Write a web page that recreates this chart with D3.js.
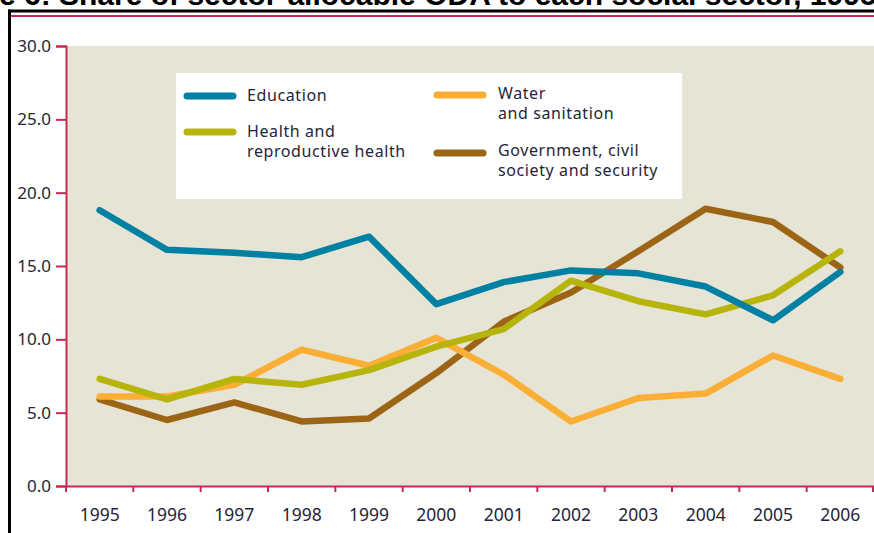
<!DOCTYPE html>
<html>
<head>
<meta charset="utf-8">
<script src="https://cdn.jsdelivr.net/npm/d3@7"></script>
<style>
  body { margin: 0; background: #fff; }
  svg { display: block; }
</style>
</head>
<body>
<script>
// data
let years = ['1995', '1996', '1997', '1998', '1999', '2000', '2001', '2002', '2003', '2004', '2005', '2006']
let education = [18.8, 16.1, 15.9, 15.6, 17.0, 12.4, 13.9, 14.7, 14.5, 13.6, 11.3, 14.6]
let health = [7.3, 5.9, 7.3, 6.9, 7.9, 9.5, 10.7, 14.0, 12.6, 11.7, 13.0, 16.0]
let water = [6.1, 6.1, 6.9, 9.3, 8.2, 10.1, 7.6, 4.4, 6.0, 6.3, 8.9, 7.3]
let government = [5.9, 4.5, 5.7, 4.4, 4.6, 7.7, 11.2, 13.2, 16.0, 18.9, 18.0, 14.9]
let yTicks = [0, 5, 10, 15, 20, 25, 30]

let series = [
  { name: ['Government, civil', 'society and security'], values: government, color: '#9c6415' },
  { name: ['Water', 'and sanitation'], values: water, color: '#fbae35' },
  { name: ['Health and', 'reproductive health'], values: health, color: '#b7b50c' },
  { name: ['Education'], values: education, color: '#0080a2' }
]

const axisColor = '#c52a57'
const textColor = '#26243a'

let svg = d3
  .select('body')
  .append('svg')
  .attr('width', 874)
  .attr('height', 533)

// title, mostly cut off at the top of the crop
svg.append('text')
  .attr('x', -76)
  .attr('y', 5)
  .style('font-family', '"Liberation Sans", Arial, sans-serif')
  .style('font-weight', 'bold')
  .style('font-size', '30px')
  .attr('fill', '#000')
  .text('Figure 6: Share of sector-allocable ODA to each social sector, 1995-2006')

// frame lines
svg.append('line')
  .attr('x1', 8).attr('x2', 874).attr('y1', 11).attr('y2', 11)
  .attr('stroke', '#000').attr('stroke-width', 3)
svg.append('line')
  .attr('x1', 9.5).attr('x2', 9.5).attr('y1', 9.5).attr('y2', 533)
  .attr('stroke', '#000').attr('stroke-width', 3)
svg.append('line')
  .attr('x1', 11).attr('x2', 874).attr('y1', 16).attr('y2', 16)
  .attr('stroke', axisColor).attr('stroke-width', 2)

let x = d3
  .scaleBand()
  .domain(years)
  .range([66, 874])
  .padding(0)

let y = d3
  .scaleLinear()
  .domain([0, 30])
  .range([486, 46])

// plot background
svg.append('rect')
  .attr('x', x.range()[0])
  .attr('y', y(30))
  .attr('width', x.range()[1] - x.range()[0])
  .attr('height', y(0) - y(30))
  .attr('fill', '#e6e4d5')

// legend box
let legend = svg.append('g')
legend.append('rect')
  .attr('x', 176)
  .attr('y', 73)
  .attr('width', 506)
  .attr('height', 126)
  .attr('fill', '#fff')

let legendPos = [
  { sx: 437, sy: 153, tx: 498, ty: 156 },
  { sx: 437, sy: 95, tx: 498, ty: 99 },
  { sx: 187, sy: 132, tx: 247, ty: 137 },
  { sx: 187, sy: 96, tx: 247, ty: 101 }
]

series.forEach((s, i) => {
  let p = legendPos[i]
  legend.append('line')
    .attr('x1', p.sx).attr('x2', p.sx + 46)
    .attr('y1', p.sy).attr('y2', p.sy)
    .attr('stroke', s.color)
    .attr('stroke-width', 7)
    .attr('stroke-linecap', 'round')
  let t = legend.append('text')
    .attr('x', p.tx)
    .attr('y', p.ty)
    .style('font-family', '"Noto Sans", sans-serif')
    .style('font-size', '16px')
    .style('letter-spacing', '0.6px')
    .attr('fill', textColor)
  s.name.forEach((line, j) => {
    t.append('tspan')
      .attr('x', p.tx)
      .attr('dy', j === 0 ? 0 : 20)
      .text(line)
  })
})

// lines
let line = d3.line()
  .x((d, i) => x(years[i]) + x.bandwidth() / 2)
  .y((d) => y(d))

svg.append('g')
  .selectAll('path')
  .data(series)
  .join('path')
  .attr('d', (d) => line(d.values))
  .attr('fill', 'none')
  .attr('stroke', (d) => d.color)
  .attr('stroke-width', 6.5)
  .attr('stroke-linejoin', 'round')
  .attr('stroke-linecap', 'round')

// y axis
let yAxis = svg.append('g')
  .attr('transform', `translate(${x.range()[0]},0)`)
  .call(d3.axisLeft(y).tickValues(yTicks).tickFormat(d3.format('.1f')).tickSize(10).tickPadding(5))
yAxis.select('.domain').attr('stroke', axisColor).attr('stroke-width', 2)
yAxis.selectAll('.tick line').attr('stroke', axisColor).attr('stroke-width', 2)
yAxis.selectAll('.tick text')
  .attr('fill', textColor)
  .style('font-family', '"Noto Sans", sans-serif')
  .style('font-size', '17px')

// x axis: labels centred in each band, ticks at band edges
let xAxis = svg.append('g')
  .attr('transform', `translate(0,${y(0)})`)
  .call(d3.axisBottom(x).tickSize(0).tickPadding(23))
xAxis.select('.domain').attr('stroke', axisColor).attr('stroke-width', 2)
xAxis.selectAll('.tick text')
  .attr('fill', textColor)
  .style('font-family', '"Noto Sans", sans-serif')
  .style('font-size', '17.5px')

xAxis.selectAll('.edge')
  .data(years.concat(['end']))
  .join('line')
  .attr('class', 'edge')
  .attr('x1', (d) => d === 'end' ? x.range()[1] - 1 : x(d))
  .attr('x2', (d) => d === 'end' ? x.range()[1] - 1 : x(d))
  .attr('y1', 0)
  .attr('y2', 6)
  .attr('stroke', axisColor)
  .attr('stroke-width', 2)
</script>
</body>
</html>
